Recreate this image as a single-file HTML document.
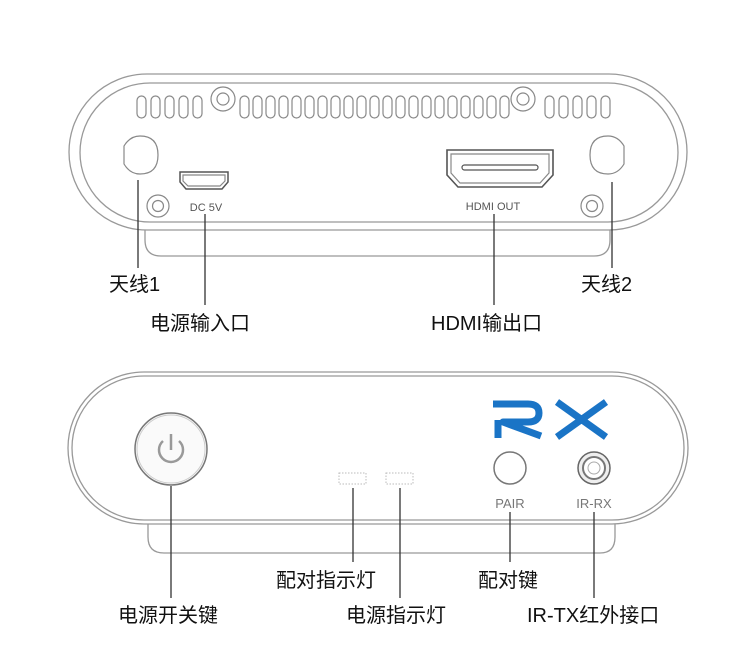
<!DOCTYPE html>
<html><head><meta charset="utf-8"><style>
html,body{margin:0;padding:0;background:#fff;}
svg{display:block;}
.lb{font-family:"Liberation Sans","Noto Sans CJK SC",sans-serif;font-size:20px;fill:#111;}
.sm{font-family:"Liberation Sans",sans-serif;font-size:11px;fill:#555;}
</style></head><body>
<svg width="750" height="645" viewBox="0 0 750 645" xmlns="http://www.w3.org/2000/svg">
<g fill="none" stroke="#999" stroke-width="1.3">
<path d="M145 226 V240 Q145 256 161 256 H594 Q610 256 610 240 V226"/>
<rect x="69" y="74" width="618" height="156" rx="78" fill="#fff"/>
<rect x="80" y="83" width="598" height="139" rx="70"/>
</g>
<g fill="none" stroke="#888" stroke-width="1.2">
<g id="vl">
<rect x="137" y="96" width="9" height="22" rx="4.5"/>
<rect x="151" y="96" width="9" height="22" rx="4.5"/>
<rect x="165" y="96" width="9" height="22" rx="4.5"/>
<rect x="179" y="96" width="9" height="22" rx="4.5"/>
<rect x="193" y="96" width="9" height="22" rx="4.5"/>
</g>
<use href="#vl" x="408"/>
<g id="vm">
<rect x="240" y="96" width="9" height="22" rx="4.5"/>
<rect x="253" y="96" width="9" height="22" rx="4.5"/>
<rect x="266" y="96" width="9" height="22" rx="4.5"/>
<rect x="279" y="96" width="9" height="22" rx="4.5"/>
<rect x="292" y="96" width="9" height="22" rx="4.5"/>
<rect x="305" y="96" width="9" height="22" rx="4.5"/>
<rect x="318" y="96" width="9" height="22" rx="4.5"/>
</g>
<use href="#vm" x="91"/>
<use href="#vm" x="182"/>
<circle cx="223" cy="99" r="12" fill="#fff"/><circle cx="223" cy="99" r="6"/>
<circle cx="523" cy="99" r="12" fill="#fff"/><circle cx="523" cy="99" r="6"/>
<circle cx="158" cy="206" r="11"/><circle cx="158" cy="206" r="5.5"/>
<circle cx="592" cy="206" r="11"/><circle cx="592" cy="206" r="5.5"/>
<path d="M124 146 Q130 136 140 136 Q158 136 158 155 Q158 174 140 174 Q130 174 124 164 Z"/>
<path d="M624 146 Q618 136 608 136 Q590 136 590 155 Q590 174 608 174 Q618 174 624 164 Z"/>
<path d="M180 172 H228 V182 L222 189 H186 L180 182 Z" stroke="#555" stroke-width="1.5"/>
<path d="M183 175 H225 V181 L220 186 H188 L183 181 Z" stroke="#888"/>
<path d="M447 150 H553 V175 L542 187 H458 L447 175 Z" stroke="#555" stroke-width="1.6"/>
<path d="M451 154 H549 V173 L540 183 H460 L451 173 Z"/>
<rect x="462" y="165" width="76" height="5" rx="2.5" stroke="#555"/>
</g>
<text class="sm" x="206" y="211" text-anchor="middle">DC 5V</text>
<text class="sm" x="493" y="210" text-anchor="middle">HDMI OUT</text>
<g stroke="#333" stroke-width="1.3">
<line x1="138" y1="180" x2="138" y2="268"/>
<line x1="205" y1="214" x2="205" y2="305"/>
<line x1="494" y1="214" x2="494" y2="305"/>
<line x1="612" y1="182" x2="612" y2="268"/>
</g>
<text class="lb" x="109" y="291">天线1</text>
<text class="lb" x="150" y="330">电源输入口</text>
<text class="lb" x="431" y="330">HDMI输出口</text>
<text class="lb" x="581" y="291">天线2</text>

<g fill="none" stroke="#999" stroke-width="1.3">
<path d="M148 520 V537 Q148 553 164 553 H600 Q615 553 615 537 V520"/>
<rect x="68" y="372" width="620" height="152" rx="76" fill="#fff"/>
<rect x="72" y="376" width="612" height="144" rx="72"/>
</g>
<circle cx="171" cy="449" r="36" fill="#fafafa" stroke="#777" stroke-width="1.5"/>
<circle cx="171" cy="449" r="34" fill="none" stroke="#ccc" stroke-width="1"/>
<path d="M163 441 A12 12 0 1 0 179 441" fill="none" stroke="#999" stroke-width="2.5"/>
<line x1="171" y1="434" x2="171" y2="450" stroke="#999" stroke-width="2.5"/>
<rect x="339" y="473" width="27" height="11" fill="none" stroke="#bbb" stroke-dasharray="1.5 1.5"/>
<rect x="386" y="473" width="27" height="11" fill="none" stroke="#bbb" stroke-dasharray="1.5 1.5"/>
<g fill="none" stroke="#1a74c6" stroke-width="7" stroke-linejoin="round">
<path d="M493 404 H528 Q539 404 539 413 Q539 422 528 422 H503 L541 436"/>
<line x1="498" y1="420" x2="498" y2="438"/>
<line x1="557" y1="402" x2="606" y2="437"/>
<line x1="606" y1="402" x2="557" y2="437"/>
</g>
<circle cx="510" cy="468" r="16" fill="#fff" stroke="#777" stroke-width="1.5"/>
<circle cx="594" cy="468" r="16" fill="#eee" stroke="#666" stroke-width="1.5"/>
<circle cx="594" cy="468" r="11" fill="#fff" stroke="#777" stroke-width="2"/>
<circle cx="594" cy="468" r="6" fill="none" stroke="#aaa" stroke-width="1"/>
<text x="510" y="508" text-anchor="middle" font-family="Liberation Sans,sans-serif" font-size="13" fill="#777">PAIR</text>
<text x="594" y="508" text-anchor="middle" font-family="Liberation Sans,sans-serif" font-size="13" fill="#777">IR-RX</text>
<g stroke="#333" stroke-width="1.3">
<line x1="171" y1="486" x2="171" y2="598"/>
<line x1="353" y1="488" x2="353" y2="562"/>
<line x1="400" y1="488" x2="400" y2="598"/>
<line x1="510" y1="512" x2="510" y2="562"/>
<line x1="594" y1="512" x2="594" y2="598"/>
</g>
<text class="lb" x="276" y="587">配对指示灯</text>
<text class="lb" x="478" y="587">配对键</text>
<text class="lb" x="118" y="622">电源开关键</text>
<text class="lb" x="346" y="622">电源指示灯</text>
<text class="lb" x="527" y="622">IR-TX红外接口</text>
</svg>
</body></html>
